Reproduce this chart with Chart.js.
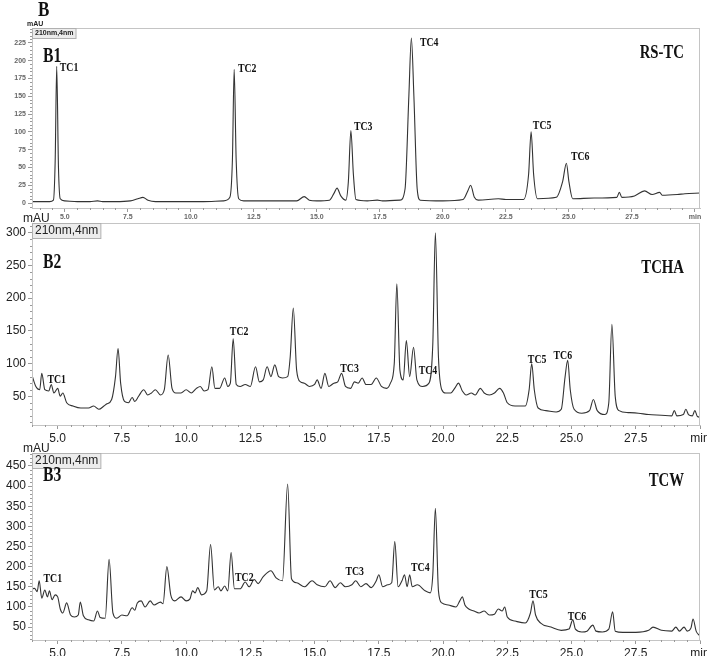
<!DOCTYPE html>
<html>
<head>
<meta charset="utf-8">
<script src="https://cdn.jsdelivr.net/npm/chart.js@4.4.0/dist/chart.umd.min.js"></script>
<style>
  html, body { margin: 0; padding: 0; background: #fff; }
  body { width: 707px; height: 656px; position: relative; overflow: hidden; }
  canvas { position: absolute; left: 0; }
</style>
</head>
<body>
<canvas id="b1" width="707" height="222" style="top:0px"></canvas>
<canvas id="b2" width="707" height="236" style="top:210px"></canvas>
<canvas id="b3" width="707" height="216" style="top:440px"></canvas>
<script>
// ---- data ----
const xTicks = [5, 7.5, 10, 12.5, 15, 17.5, 20, 22.5, 25, 27.5, 30];
const xTickLabels = ['5.0', '7.5', '10.0', '12.5', '15.0', '17.5', '20.0', '22.5', '25.0', '27.5', 'min'];

// B1  RS-TC
const b1Time = [3.7, 4.4, 4.55, 4.62, 4.68, 4.75, 4.82, 5.0, 5.5, 6.0,
  6.3, 6.5, 7.0, 7.6, 7.9, 8.1, 8.3, 8.6, 9.5, 10.5,
  11.3, 11.55, 11.65, 11.72, 11.8, 11.9, 12.1, 13.0, 14.2, 14.5,
  14.7, 15.0, 15.5, 15.7, 15.8, 15.95, 16.15, 16.25, 16.35, 16.45,
  16.55, 17.0, 17.4, 17.6, 18.3, 18.5, 18.65, 18.75, 18.85, 18.98,
  19.1, 20.0, 20.8, 21.0, 21.1, 21.25, 21.4, 22.2, 22.5, 23.2,
  23.4, 23.5, 23.6, 23.75, 24.5, 24.75, 24.9, 25.0, 25.15, 26.0,
  26.9, 27.0, 27.1, 27.6, 28.0, 28.3, 28.6, 28.7, 29.3, 29.6, 30.2];
const b1Signal = [2, 2, 4, 60, 192, 50, 6, 3, 2, 2,
  3, 2, 2, 3, 6, 8, 4, 2, 2, 2,
  3, 8, 60, 188, 60, 6, 3, 3, 3, 9,
  4, 3, 4, 15, 21, 10, 4, 30, 102, 40,
  5, 3, 4, 3, 4, 20, 150, 232, 150, 20,
  4, 3, 5, 18, 25, 8, 4, 6, 5, 5,
  40, 100, 40, 6, 8, 30, 56, 30, 6, 7,
  8, 15, 8, 10, 17, 12, 15, 11, 12, 13, 14];
const b1YTicks = [0, 25, 50, 75, 100, 125, 150, 175, 200, 225];
const b1PeakNames = ['TC1', 'TC2', 'TC3', 'TC4', 'TC5', 'TC6'];
const b1LabelTime = [4.8, 11.87, 16.47, 19.09, 23.57, 25.08];
const b1LabelValue = [190, 188, 107, 225, 108, 65];

// B2  TCHA
const b2Time = [4.0, 4.15, 4.3, 4.38, 4.5, 4.65, 4.75, 4.85, 5.0, 5.1,
  5.2, 5.35, 5.6, 5.9, 6.2, 6.4, 6.6, 6.8, 6.9, 7.1,
  7.25, 7.35, 7.45, 7.6, 7.75, 7.9, 8.0, 8.15, 8.35, 8.5,
  8.65, 8.8, 9.0, 9.15, 9.3, 9.45, 9.6, 9.8, 10.0, 10.2,
  10.4, 10.55, 10.7, 10.85, 11.0, 11.12, 11.3, 11.5, 11.62, 11.72,
  11.83, 11.95, 12.1, 12.3, 12.5, 12.7, 12.85, 13.0, 13.15, 13.3,
  13.45, 13.6, 13.75, 13.95, 14.05, 14.17, 14.3, 14.45, 14.6, 14.8,
  15.0, 15.1, 15.25, 15.4, 15.55, 15.75, 15.9, 16.05, 16.2, 16.4,
  16.55, 16.7, 16.85, 17.0, 17.2, 17.4, 17.6, 17.8, 17.95, 18.1,
  18.2, 18.32, 18.45, 18.57, 18.7, 18.85, 18.98, 19.2, 19.45, 19.6,
  19.7, 19.82, 19.95, 20.1, 20.3, 20.45, 20.6, 20.75, 20.9, 21.1,
  21.25, 21.45, 21.6, 21.8, 22.0, 22.2, 22.35, 22.5, 22.8, 23.2,
  23.35, 23.45, 23.55, 23.7, 24.0, 24.4, 24.6, 24.75, 24.85, 24.95,
  25.1, 25.4, 25.7, 25.85, 26.0, 26.3, 26.45, 26.57, 26.7, 26.85,
  27.2, 27.6, 28.0, 28.5, 28.9, 29.0, 29.1, 29.35, 29.45, 29.55,
  29.7, 29.8, 29.9, 30.0];
const b2Signal = [82, 65, 60, 85, 60, 58, 68, 55, 62, 50,
  55, 40, 35, 32, 32, 35, 30, 35, 38, 45,
  80, 123, 70, 42, 40, 48, 42, 50, 60, 52,
  55, 60, 52, 60, 113, 62, 55, 55, 60, 55,
  62, 65, 58, 60, 95, 62, 62, 78, 65, 70,
  138, 68, 65, 68, 65, 95, 72, 75, 95, 80,
  98, 80, 78, 80, 110, 185, 90, 72, 70, 65,
  68, 75, 62, 85, 65, 70, 72, 85, 65, 62,
  72, 70, 78, 68, 68, 78, 65, 62, 70, 100,
  222, 90, 75, 135, 80, 125, 75, 65, 70, 130,
  300, 110, 60, 55, 55, 62, 70, 58, 52, 55,
  52, 62, 55, 52, 55, 62, 55, 40, 35, 35,
  60, 100, 60, 32, 28, 26, 30, 80, 105, 60,
  30, 24, 28, 45, 28, 22, 40, 160, 50, 28,
  25, 24, 22, 21, 20, 28, 20, 22, 30, 22,
  20, 28, 19, 18];
const b2YTicks = [50, 100, 150, 200, 250, 300];
const b2PeakNames = ['TC1', 'TC2', 'TC3', 'TC4', 'TC5', 'TC6'];
const b2LabelTime = [4.6, 11.7, 16.0, 19.05, 23.3, 24.3];
const b2LabelValue = [75, 149, 92, 88, 106, 112];

// B3  TCW
const b3Time = [4.0, 4.1, 4.2, 4.28, 4.38, 4.5, 4.6, 4.68, 4.78, 4.9,
  5.0, 5.1, 5.2, 5.35, 5.5, 5.65, 5.8, 5.88, 6.0, 6.2,
  6.4, 6.55, 6.65, 6.85, 7.0, 7.15, 7.3, 7.5, 7.7, 7.9,
  8.0, 8.1, 8.25, 8.4, 8.6, 8.75, 9.0, 9.1, 9.25, 9.4,
  9.55, 9.8, 10.0, 10.15, 10.25, 10.35, 10.45, 10.6, 10.8, 10.95,
  11.1, 11.25, 11.35, 11.5, 11.62, 11.75, 11.88, 12.1, 12.3, 12.45,
  12.65, 12.8, 13.0, 13.3, 13.5, 13.75, 13.95, 14.1, 14.3, 14.6,
  14.9, 15.1, 15.4, 15.6, 15.8, 16.0, 16.2, 16.45, 16.6, 16.8,
  17.0, 17.2, 17.4, 17.5, 17.65, 17.85, 18.0, 18.12, 18.25, 18.4,
  18.5, 18.6, 18.7, 18.8, 19.0, 19.3, 19.5, 19.6, 19.7, 19.82,
  19.95, 20.2, 20.5, 20.65, 20.75, 20.85, 21.0, 21.2, 21.4, 21.6,
  21.8, 22.0, 22.15, 22.3, 22.4, 22.5, 22.8, 23.2, 23.4, 23.5,
  23.6, 23.8, 24.2, 24.6, 24.9, 25.05, 25.15, 25.4, 25.6, 25.83,
  25.95, 26.2, 26.45, 26.6, 26.7, 27.0, 27.5, 28.0, 28.17, 28.5,
  28.9, 29.06, 29.2, 29.38, 29.5, 29.65, 29.73, 29.85, 30.0];
const b3Signal = [145, 146, 138, 165, 122, 142, 125, 140, 118, 130,
  125, 95, 85, 110, 80, 75, 80, 112, 78, 68,
  65, 90, 74, 72, 218, 85, 72, 80, 78, 98,
  92, 110, 115, 100, 115, 105, 112, 108, 200, 130,
  115, 125, 115, 120, 140, 135, 148, 130, 140, 255,
  142, 150, 140, 152, 140, 235, 145, 145, 162, 150,
  168, 158, 175, 190, 172, 165, 405, 170, 160, 150,
  165, 155, 150, 165, 148, 160, 150, 155, 165, 150,
  158, 148, 165, 180, 150, 155, 160, 262, 150, 165,
  180, 150, 180, 150, 155, 140, 135, 180, 345, 140,
  110, 105, 100, 115, 125, 105, 95, 90, 85, 90,
  80, 82, 95, 90, 100, 75, 65, 60, 85, 115,
  80, 60, 50, 42, 45, 68, 45, 38, 40, 55,
  40, 38, 45, 88, 40, 37, 37, 42, 50, 42,
  40, 50, 40, 50, 40, 48, 70, 40, 28];
const b3YTicks = [50, 100, 150, 200, 250, 300, 350, 400, 450];
const b3PeakNames = ['TC1', 'TC2', 'TC3', 'TC4', 'TC5', 'TC6'];
const b3LabelTime = [4.45, 11.9, 16.2, 18.75, 23.35, 24.85];
const b3LabelValue = [170, 172, 187, 197, 130, 75];

// ---- panel layout ----
const panels = [
  { id: 'b1', time: b1Time, signal: b1Signal, yTicks: b1YTicks, xMin: 3.7, xMax: 30.2, yMin: -7, yMax: 246,
    yMinor: 5, padTop: 28, xAxisH: 14, small: true, tag: 'B1', tagY: 57, title: 'RS-TC', titleY: 53,
    names: b1PeakNames, lt: b1LabelTime, lv: b1LabelValue },
  { id: 'b2', time: b2Time, signal: b2Signal, yTicks: b2YTicks, xMin: 4.0, xMax: 30.0, yMin: 6, yMax: 315,
    yMinor: 10, padTop: 13, xAxisH: 21, small: false, tag: 'B2', tagY: 263, title: 'TCHA', titleY: 268,
    names: b2PeakNames, lt: b2LabelTime, lv: b2LabelValue },
  { id: 'b3', time: b3Time, signal: b3Signal, yTicks: b3YTicks, xMin: 4.0, xMax: 30.0, yMin: 18, yMax: 482,
    yMinor: 10, padTop: 13, xAxisH: 16, small: false, tag: 'B3', tagY: 476, title: 'TCW', titleY: 481,
    names: b3PeakNames, lt: b3LabelTime, lv: b3LabelValue }
];

function serifText(ctx, txt, x, y, size, squeeze) {
  ctx.save();
  ctx.font = 'bold ' + size + 'px "Liberation Serif", "DejaVu Serif", serif';
  ctx.fillStyle = '#111';
  ctx.textBaseline = 'middle';
  ctx.translate(x, y);
  ctx.scale(squeeze, 1);
  ctx.fillText(txt, 0, 0);
  ctx.restore();
}

panels.forEach(function(p) {
  const canvasTop = parseFloat(document.getElementById(p.id).style.top);
  const tickFont = p.small
    ? { family: 'Liberation Sans', size: 7, weight: 'bold' }
    : { family: 'Liberation Sans', size: 12 };
  const tickColor = p.small ? '#666' : '#222';

  const decor = {
    id: 'decor',
    afterDatasetsDraw(chart) {
      const ctx = chart.ctx;
      const a = chart.chartArea;
      const xs = chart.scales.x, ys = chart.scales.y;
      ctx.save();
      // frame
      ctx.strokeStyle = '#c4c4c4';
      ctx.lineWidth = 1;
      ctx.strokeRect(a.left + 0.5, a.top + 0.5, a.right - a.left - 1, a.bottom - a.top);
      // minor ticks
      ctx.strokeStyle = '#999';
      ctx.beginPath();
      for (let t = Math.ceil(p.xMin * 2) / 2; t <= p.xMax; t += 0.5) {
        if (Math.abs(t / 2.5 - Math.round(t / 2.5)) < 1e-6) continue;
        const px = Math.round(xs.getPixelForValue(t)) + 0.5;
        ctx.moveTo(px, a.bottom); ctx.lineTo(px, a.bottom + 2);
      }
      for (let v = Math.ceil(p.yMin / p.yMinor) * p.yMinor; v <= p.yMax; v += p.yMinor) {
        if (p.yTicks.indexOf(v) >= 0) continue;
        const py = Math.round(ys.getPixelForValue(v)) + 0.5;
        ctx.moveTo(a.left, py); ctx.lineTo(a.left - 2, py);
      }
      ctx.stroke();
      // mAU + wavelength box
      const fs = p.small ? 7 : 12;
      ctx.fillStyle = '#222';
      ctx.font = (p.small ? 'bold ' : '') + fs + 'px "Liberation Sans", Arial, sans-serif';
      ctx.textBaseline = 'bottom';
      ctx.fillText('mAU', a.left - (p.small ? 5 : 9), a.top + (p.small ? 0 : 2));
      const w = ctx.measureText('210nm,4nm').width;
      ctx.fillStyle = '#ececec';
      ctx.fillRect(a.left + 0.5, a.top + 0.5, w + 5, fs + 3);
      ctx.strokeStyle = '#b0b0b0';
      ctx.strokeRect(a.left + 0.5, a.top + 0.5, w + 5, fs + 3);
      ctx.fillStyle = '#222';
      ctx.textBaseline = 'middle';
      ctx.fillText('210nm,4nm', a.left + 3, a.top + 2 + fs / 2);
      ctx.restore();
      // panel tag, title, peak labels
      serifText(ctx, p.tag, 43, p.tagY - canvasTop, 20, 0.78);
      const tw = (function() {
        ctx.save(); ctx.font = 'bold 18px "Liberation Serif", serif';
        const m = ctx.measureText(p.title).width * 0.82; ctx.restore(); return m;
      })();
      serifText(ctx, p.title, 684 - tw, p.titleY - canvasTop, 18, 0.82);
      p.names.forEach(function(n, i) {
        serifText(ctx, n, xs.getPixelForValue(p.lt[i]), ys.getPixelForValue(p.lv[i]), 12, 0.82);
      });
      if (p.id === 'b1') serifText(ctx, 'B', 38, 11, 20, 0.85);
    }
  };

  new Chart(document.getElementById(p.id), {
    type: 'line',
    data: {
      datasets: [{
        data: p.time.map(function(t, i) { return { x: t, y: p.signal[i] }; }),
        borderColor: '#333',
        borderWidth: 1.1,
        pointRadius: 0,
        fill: false,
        cubicInterpolationMode: 'monotone'
      }]
    },
    options: {
      responsive: false,
      animation: false,
      events: [],
      layout: { padding: { top: p.padTop, right: 7, left: 0, bottom: 0 } },
      plugins: { legend: { display: false }, tooltip: { enabled: false } },
      scales: {
        x: {
          type: 'linear', min: p.xMin, max: p.xMax,
          afterBuildTicks: function(s) { s.ticks = xTicks.map(function(v) { return { value: v }; }); },
          afterFit: function(s) { s.height = p.xAxisH; s.paddingLeft = 0; s.paddingRight = 0; },
          ticks: {
            autoSkip: false, maxRotation: 0, padding: p.small ? 1 : 2,
            font: tickFont, color: tickColor,
            callback: function(v) { const k = xTicks.indexOf(v); return k >= 0 ? xTickLabels[k] : ''; }
          },
          grid: { display: true, drawOnChartArea: false, drawTicks: true, tickLength: 4, color: '#999' },
          border: { display: true, color: '#c4c4c4' }
        },
        y: {
          type: 'linear', min: p.yMin, max: p.yMax,
          afterBuildTicks: function(s) { s.ticks = p.yTicks.map(function(v) { return { value: v }; }); },
          afterFit: function(s) { s.width = 32; s.paddingTop = 0; s.paddingBottom = 0; },
          ticks: { autoSkip: false, padding: 2, font: tickFont, color: tickColor,
            callback: function(v) { return String(v); } },
          grid: { display: true, drawOnChartArea: false, drawTicks: true, tickLength: 4, color: '#999' },
          border: { display: true, color: '#c4c4c4' }
        }
      }
    },
    plugins: [decor]
  });
});
</script>
</body>
</html>
